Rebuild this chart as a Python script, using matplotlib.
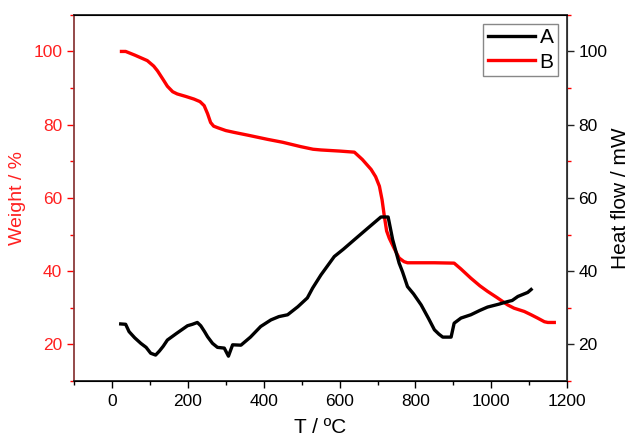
import matplotlib
matplotlib.use('Agg')
import matplotlib.pyplot as plt
import numpy as np

plt.rcParams['font.family'] = ['Liberation Sans', 'DejaVu Sans']

# B: weight loss curve (left axis)
tempB = [25, 36, 60, 93, 110, 120, 135, 146, 160, 172, 195, 216, 232, 243, 252, 260,
         268, 278, 300, 322, 360, 410, 450, 498, 530, 551, 600, 639, 660, 683, 695, 705,
         712, 718, 724, 731, 745, 757, 770, 779, 850, 902, 920, 946, 970, 990, 1015,
         1043, 1060, 1087, 1105, 1122, 1140, 1149, 1166]
weightB = [100, 100, 99, 97.5, 96, 94.7, 92.3, 90.5, 89, 88.4, 87.7, 87, 86.3, 85.2, 83, 80.6,
           79.6, 79.2, 78.4, 77.9, 77.1, 76, 75.2, 74.0, 73.3, 73.1, 72.8, 72.5, 70.5, 67.8, 65.8, 63.2,
           59.5, 55, 51, 49, 46, 43.6, 42.6, 42.3, 42.3, 42.2, 40.6, 38.1, 36.0, 34.5, 32.8,
           30.8, 29.9, 29.0, 28.1, 27.2, 26.2, 26, 26]

# A: heat flow curve (right axis)
tempA = [23, 36, 45, 60, 76, 90, 102, 115, 125, 135, 146, 170, 199, 212, 225, 234, 244,
         252, 265, 278, 296, 307, 318, 340, 365, 392, 419, 440, 463, 490, 515, 529, 551,
         586, 610, 639, 675, 709, 728, 740, 757, 766, 779, 795, 815, 835, 850, 862, 872,
         894, 902, 920, 946, 970, 990, 1020, 1043, 1055, 1070, 1096, 1105]
heatA = [25.6, 25.5, 23.5, 21.8, 20.3, 19.2, 17.6, 17.1, 18.2, 19.5, 21.2, 23, 25.1, 25.5, 26, 25.1, 23.5,
         22.1, 20.3, 19.2, 19, 16.8, 19.9, 19.8, 22, 24.9, 26.7, 27.6, 28.1, 30.3, 32.7, 35.4, 39,
         44, 46, 48.6, 51.8, 54.8, 54.8, 48.6, 42.2, 39.8, 35.8, 33.8, 30.8, 27.0, 24, 22.8, 22,
         22, 25.8, 27.2, 28.1, 29.3, 30.2, 31, 31.7, 32, 33.1, 34.2, 35]

fig = plt.figure(figsize=(6.33, 4.36), dpi=100)
ax = fig.add_axes([0.117, 0.126, 0.779, 0.840])
ax2 = ax.twinx()

lineB, = ax.plot(tempB, weightB, color='#ff0000', lw=2.4, label='B')
lineA, = ax2.plot(tempA, heatA, color='black', lw=2.4, label='A')

for a in (ax, ax2):
    a.set_xlim(-100, 1200)
    a.set_ylim(10, 110)
    a.set_yticks(np.arange(20, 101, 20))
    a.set_yticks(np.arange(10, 111, 10), minor=True)
ax.set_xticks(np.arange(0, 1201, 200))
ax.set_xticks(np.arange(-100, 1201, 100), minor=True)

ax.tick_params(axis='x', which='major', direction='out', length=5, width=1, labelsize=12.5, pad=4)
ax.tick_params(axis='x', which='minor', direction='out', length=3, width=1)
ax.tick_params(axis='y', which='major', direction='out', length=5, width=1,
               colors='#ff0000', labelsize=12.5, labelcolor='#ff2020')
ax.tick_params(axis='y', which='minor', direction='out', length=3, width=1, colors='#ff0000')
ax2.tick_params(axis='y', which='major', direction='out', length=5, width=1,
                colors='#222222', labelsize=12.5, labelcolor='black', pad=3)
ax2.tick_params(axis='y', which='minor', direction='out', length=3, width=1, colors='#ff0000')

ax.spines['left'].set_color('#8b3a3a')
ax.spines['left'].set_linewidth(1.3)
ax2.spines['left'].set_visible(False)
ax2.spines['right'].set_color('#333333')
ax2.spines['right'].set_linewidth(1.3)
for s in ('top', 'bottom'):
    ax.spines[s].set_color('#222222')
    ax.spines[s].set_linewidth(1.3)

ax.set_ylabel('Weight / %', color='#ff2020', fontsize=14, labelpad=5)
ax2.set_ylabel('Heat flow / mW', color='black', fontsize=15, labelpad=3)
ax.set_xlabel('T / ºC', fontsize=15, labelpad=7)

leg = ax2.legend([lineA, lineB], ['A', 'B'], loc='upper right', fontsize=15,
                 handlelength=2.3, handletextpad=0.2, borderpad=0.2,
                 labelspacing=0.25, borderaxespad=0.45, fancybox=False, framealpha=1)
leg.get_frame().set_edgecolor('#888888')
leg.get_frame().set_linewidth(1)

fig.savefig('out.png', dpi=100)
